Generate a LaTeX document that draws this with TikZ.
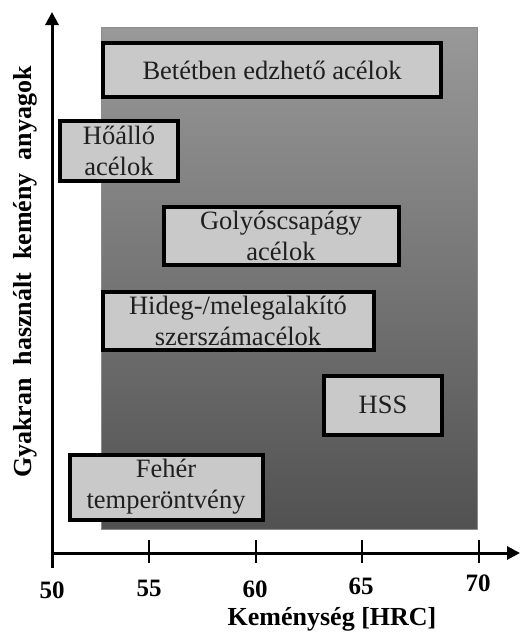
\documentclass[tikz,border=0pt]{standalone}
\usepackage{fontspec}
\setmainfont{Liberation Serif}
\usetikzlibrary{arrows.meta}

\tikzset{
  box/.style={draw=black, line width=4pt, fill=black!21, align=center, inner sep=0pt,
    text=black!88, font=\fontsize{26.5}{31}\selectfont},
  axis/.style={line width=3pt, -{Triangle[length=13pt,width=13pt]}},
  tick/.style={line width=2pt},
  ticklabel/.style={font=\bfseries\fontsize{25}{29}\selectfont},
}

\begin{document}
\begin{tikzpicture}[x=1pt, y=-1pt]
\useasboundingbox (0,0) rectangle (521,632);

% Shaded hardness range
\shadedraw[top color=black!40, bottom color=black!68, draw=black!45] (101,27) rectangle (477,529);

% Material boxes
\node[box, minimum width=338pt, minimum height=54pt] (betet) at (272,70) {Betétben edzhető acélok};
\node[box, minimum width=118pt, minimum height=60pt] (hoallo) at (119,151) {Hőálló\\acélok};
\node[box, minimum width=235pt, minimum height=58pt] (golyo) at (281,236) {Golyóscsapágy\\acélok};
\node[box, minimum width=271pt, minimum height=58pt] (hideg) at (238,321) {Hideg-/melegalakító\\szerszámacélok};
\node[box, minimum width=118pt, minimum height=59pt] (hss) at (383,405) {HSS};
\node[box, minimum width=193pt, minimum height=65pt] (feher) at (166,487) {Fehér\\temperöntvény};

% Axes
\coordinate (ybottom) at (52,568);
\coordinate (ytop) at (52,12);
\coordinate (origin) at (52,553);
\coordinate (xend) at (520,553);
\draw[axis] (ybottom) -- (ytop);
\draw[axis] (origin) -- (xend);

% Ticks
\draw[tick] (149,540) -- (149,563);
\draw[tick] (256,540) -- (256,563);
\draw[tick] (362,540) -- (362,563);
\draw[tick] (479,540) -- (479,563);

% Labels
\node[ticklabel] (l50) at (52,590) {50};
\node[ticklabel] (l55) at (149,588) {55};
\node[ticklabel] (l60) at (255,589) {60};
\node[ticklabel] (l65) at (361,586) {65};
\node[ticklabel] (l70) at (478,583) {70};
\node[font=\bfseries\fontsize{26}{31}\selectfont] (xlabel) at (332,619) {Keménység [HRC]};
\node[rotate=90, font=\bfseries\fontsize{26}{31}\selectfont] (ylabel) at (25,272)
  {Gyakran~~használt~~kemény~~anyagok};
\end{tikzpicture}
\end{document}
